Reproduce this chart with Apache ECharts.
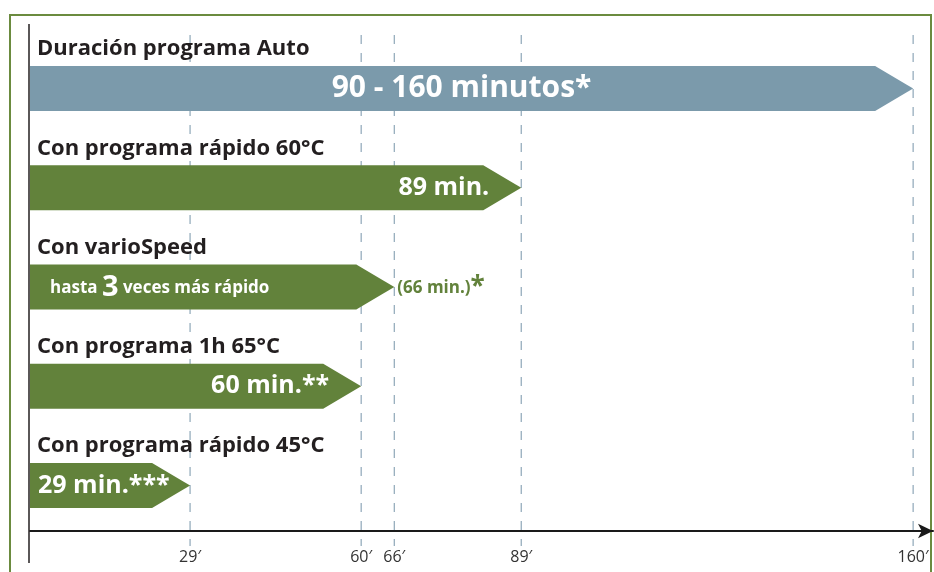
<!DOCTYPE html>
<html>
<head>
<meta charset="utf-8">
<script src="https://cdn.jsdelivr.net/npm/echarts@6/dist/echarts.min.js"></script>
<style>
  html, body { margin: 0; padding: 0; background: #fff; }
  #chart { width: 934px; height: 572px; }
</style>
</head>
<body>
<div id="chart"></div>
<script>
// Programme names shown above each bar
const rowTitles = [
  'Duración programa Auto',
  'Con programa rápido 60°C',
  'Con varioSpeed',
  'Con programa 1h 65°C',
  'Con programa rápido 45°C'
];
// Programme durations in minutes (end of each arrow)
const durations = [160, 89, 66, 60, 29];
// Text written inside each arrow
const barLabels = [
  '90 - 160 minutos*',
  '89 min.',
  '{s|hasta }{b|3}{s| veces más rápido}',
  '60 min.**',
  '29 min.***'
];
// Note written after the varioSpeed arrow
const varioNote = '(66 min.){st|*}';
// Minute marks on the time axis
const tickValues = [29, 60, 66, 89, 160];

const BLUE = '#7b9aab';
const GREEN = '#62823b';
const FONT = '"Open Sans", "Noto Sans", sans-serif';

const chart = echarts.init(document.getElementById('chart'));

function renderArrow(params, api) {
  const idx = params.dataIndex;
  const row = api.value(1);
  const end = api.coord([api.value(0), row]);
  const start = api.coord([0, row]);
  const cy = end[1];
  const h = 45, head = 38;
  const top = cy - h / 2, bot = cy + h / 2;
  const rectEnd = end[0] - head;
  const color = idx === 0 ? BLUE : GREEN;
  const children = [
    {
      type: 'polygon',
      shape: { points: [[start[0], top], [rectEnd, top], [end[0], cy], [rectEnd, bot], [start[0], bot]] },
      style: { fill: color }
    },
    {
      type: 'text',
      x: start[0] + 7, y: top - 17,
      style: { text: rowTitles[idx], fill: '#231f20', font: 'bold 22px ' + FONT, verticalAlign: 'middle', align: 'left' }
    }
  ];
  const lbl = { fill: '#fff', verticalAlign: 'middle', text: barLabels[idx] };
  if (idx === 0) {
    Object.assign(lbl, { align: 'center', font: 'bold 30px ' + FONT });
    children.push({ type: 'text', x: (start[0] + end[0]) / 2 - 10, y: cy, style: lbl });
  } else if (idx === 1 || idx === 3) {
    Object.assign(lbl, { align: 'right', font: 'bold 25px ' + FONT });
    children.push({ type: 'text', x: rectEnd + 6, y: cy, style: lbl });
  } else if (idx === 4) {
    Object.assign(lbl, { align: 'left', font: 'bold 25px ' + FONT });
    children.push({ type: 'text', x: start[0] + 8, y: cy, style: lbl });
  } else {
    Object.assign(lbl, {
      align: 'left', font: 'bold 17px ' + FONT,
      rich: {
        s: { fontSize: 17, fontWeight: 'bold', fontFamily: FONT, fill: '#fff', color: '#fff' },
        b: { fontSize: 29, fontWeight: 'bold', fontFamily: FONT, fill: '#fff', color: '#fff' }
      }
    });
    children.push({ type: 'text', x: start[0] + 20, y: cy + 1, style: lbl });
    children.push({
      type: 'text', x: end[0] + 3, y: cy + 1,
      style: {
        text: varioNote, fill: GREEN, verticalAlign: 'middle', align: 'left',
        font: 'bold 17px ' + FONT,
        rich: {
          st: { fontSize: 26, fontWeight: 'bold', fontFamily: FONT, color: GREEN, fill: GREEN, verticalAlign: 'top' }
        }
      }
    });
  }
  return { type: 'group', children: children };
}

function renderGuide(params, api) {
  const x = api.coord([api.value(0), 0])[0];
  return {
    type: 'line',
    shape: { x1: x, y1: 35, x2: x, y2: 546 },
    style: { stroke: '#8ea7b8', lineWidth: 1.2, lineDash: [9, 9] }
  };
}

chart.setOption({
  animation: false,
  backgroundColor: '#fff',
  grid: { left: 30, top: 24, width: 903, height: 507, containLabel: false },
  xAxis: {
    type: 'value', min: 0, max: 163.6,
    splitLine: { show: false },
    axisLine: {
      show: true, onZero: false, symbol: ['none', 'arrow'], symbolSize: [11, 15],
      lineStyle: { color: '#1a1a1a', width: 2 }
    },
    axisTick: { show: false },
    axisLabel: {
      customValues: tickValues,
      formatter: v => v + '′',
      color: '#333', fontSize: 16, fontFamily: FONT, margin: 18
    }
  },
  yAxis: {
    type: 'value', inverse: true, min: -0.65, max: 4.4585,
    show: false
  },
  graphic: [
    {
      type: 'rect', shape: { x: 10, y: 15, width: 921, height: 600 },
      style: { fill: 'none', stroke: '#6b8b3f', lineWidth: 2 }, z: 0
    },
    {
      type: 'line', shape: { x1: 29, y1: 24, x2: 29, y2: 563 },
      style: { stroke: '#231f20', lineWidth: 1.5 }, z: 10
    }
  ],
  series: [
    {
      type: 'custom', renderItem: renderGuide, clip: false, z: 1,
      data: tickValues.map(v => [v])
    },
    {
      type: 'custom', renderItem: renderArrow, clip: false, z: 2,
      data: durations.map((d, i) => [d, i])
    }
  ]
});
</script>
</body>
</html>
